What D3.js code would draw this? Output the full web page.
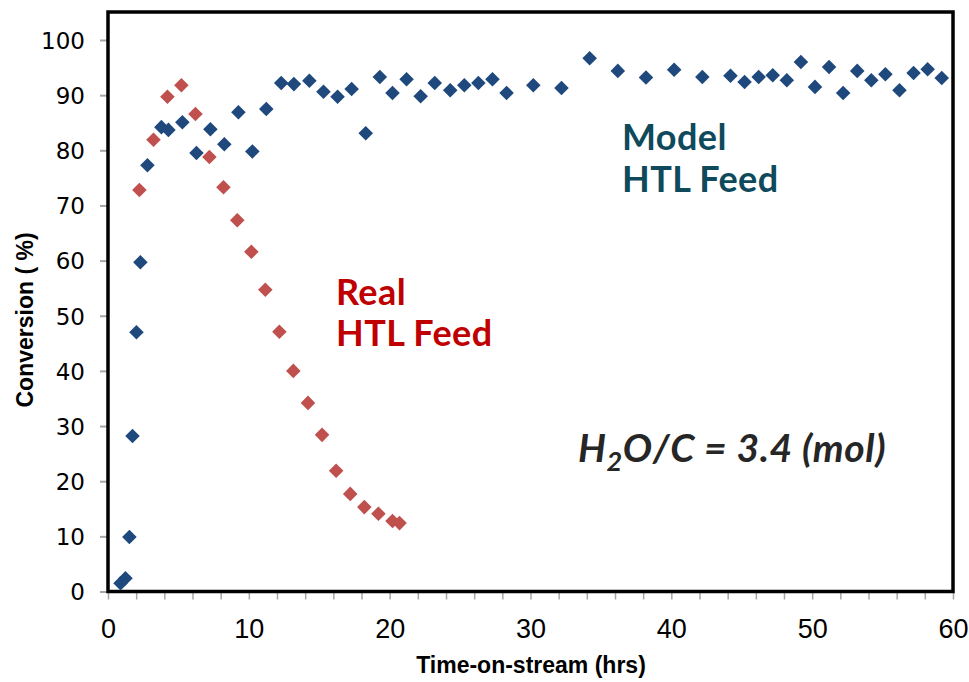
<!DOCTYPE html>
<html>
<head>
<meta charset="utf-8">
<script src="https://cdn.jsdelivr.net/npm/d3@7"></script>
<style>
  body { margin: 0; background: #fff; }
  svg { display: block; }
</style>
</head>
<body>
<svg width="969" height="682"></svg>
<script>
// Model HTL feed (blue)
const modelX = [0.89, 1.24, 1.52, 1.74, 2.02, 2.30, 2.80, 3.79, 4.29, 5.28, 6.28, 7.27, 8.26, 9.26, 10.25, 11.24,
  12.3, 13.2, 14.3, 15.3, 16.3, 17.3, 18.3, 19.3, 20.2, 21.2, 22.2, 23.2, 24.3, 25.3, 26.3, 27.3, 28.3,
  30.2, 32.2, 34.2, 36.2, 38.2, 40.2, 42.2, 44.2, 45.2, 46.2, 47.2, 48.2, 49.2, 50.2, 51.2, 52.2, 53.2,
  54.2, 55.2, 56.2, 57.2, 58.2, 59.2];
const modelY = [1.5, 2.4, 9.9, 28.2, 47.0, 59.7, 77.3, 84.2, 83.7, 85.1, 79.5, 83.8, 81.1, 86.9, 79.8, 87.5,
  92.2, 92.0, 92.6, 90.6, 89.7, 91.1, 83.1, 93.3, 90.4, 92.9, 89.8, 92.2, 90.9, 91.8, 92.2, 92.9, 90.4,
  91.8, 91.3, 96.7, 94.4, 93.2, 94.6, 93.3, 93.5, 92.4, 93.3, 93.6, 92.7, 96.0, 91.5, 95.1, 90.4, 94.4,
  92.7, 93.8, 90.9, 94.0, 94.7, 93.1];

// Real HTL feed (red)
const realX = [2.23, 3.23, 4.22, 5.21, 6.21, 7.2, 8.2, 9.18, 10.18, 11.17, 12.17, 13.16, 14.2, 15.2, 16.2,
  17.2, 18.2, 19.2, 20.2, 20.7];
const realY = [72.8, 81.9, 89.7, 91.8, 86.6, 78.8, 73.3, 67.3, 61.6, 54.7, 47.1, 40.0, 34.2, 28.4, 21.9,
  17.7, 15.3, 14.1, 12.8, 12.4];

const xTicks = [0, 10, 20, 30, 40, 50, 60];
const xMinorTicks = d3.range(0, 61, 2);
const yTicks = [0, 10, 20, 30, 40, 50, 60, 70, 80, 90, 100];

const svg = d3.select("svg");
const plotLeft = 108, plotRight = 953, plotTop = 12, plotBottom = 591.5;

const x = d3.scaleLinear().domain([0, 60]).range([plotLeft, plotRight]);
const y = d3.scaleLinear().domain([0, 100]).range([plotBottom, 40]);

// y axis
const yAxis = svg.append("g").attr("transform", "translate(" + plotLeft + ",0)")
  .call(d3.axisLeft(y).tickValues(yTicks).tickSize(8).tickPadding(15));
yAxis.select(".domain").remove();
yAxis.selectAll(".tick line").attr("stroke", "#a6a6a6").attr("stroke-width", 2);
yAxis.selectAll(".tick text").attr("font-family", "DejaVu Sans").attr("font-size", 23)
  .attr("fill", "#000").attr("dy", "0.36em");

// x axis with minor ticks every 2 hrs
const xMinor = svg.append("g").attr("transform", "translate(0," + plotBottom + ")")
  .call(d3.axisBottom(x).tickValues(xMinorTicks).tickSize(8).tickFormat(""));
xMinor.select(".domain").remove();
xMinor.selectAll(".tick line").attr("stroke", "#a6a6a6").attr("stroke-width", 1.5);

const xAxis = svg.append("g").attr("transform", "translate(0," + plotBottom + ")")
  .call(d3.axisBottom(x).tickValues(xTicks).tickSize(0).tickPadding(27));
xAxis.select(".domain").remove();
xAxis.selectAll(".tick text").attr("font-family", "Liberation Sans Narrow, Liberation Sans")
  .attr("font-size", 27).attr("fill", "#000");

// plot border
svg.append("rect").attr("x", plotLeft).attr("y", plotTop)
  .attr("width", plotRight - plotLeft).attr("height", plotBottom - plotTop)
  .attr("fill", "none").attr("stroke", "#000").attr("stroke-width", 3.5);

const diamond = d3.symbol().type(d3.symbolDiamond2).size(135);

svg.append("g").selectAll("path").data(d3.zip(realX, realY)).enter().append("path")
  .attr("d", diamond).attr("fill", "#c0504d")
  .attr("transform", d => "translate(" + x(d[0]) + "," + y(d[1]) + ")");

svg.append("g").selectAll("path").data(d3.zip(modelX, modelY)).enter().append("path")
  .attr("d", diamond).attr("fill", "#1f497d")
  .attr("transform", d => "translate(" + x(d[0]) + "," + y(d[1]) + ")");

// axis titles
svg.append("text").attr("x", 531).attr("y", 673).attr("text-anchor", "middle")
  .attr("font-family", "Liberation Sans Narrow, Liberation Sans").attr("font-weight", "bold")
  .attr("font-size", 23).text("Time-on-stream (hrs)");

svg.append("text").attr("transform", "translate(33,320) rotate(-90)").attr("text-anchor", "middle")
  .attr("font-family", "Liberation Sans Narrow, Liberation Sans").attr("font-weight", "bold")
  .attr("font-size", 23).text("Conversion ( %)");

// annotations, one text element per line
function label(lines, x0, y0, step, color) {
  lines.forEach((t, i) => {
    svg.append("text").attr("x", x0).attr("y", y0 + i * step)
      .attr("font-family", "Lato").attr("font-weight", "bold").attr("font-size", 36)
      .attr("letter-spacing", 0.4).attr("fill", color).text(t);
  });
}
label(["Real", "HTL Feed"], 336, 305, 41, "#c00000");
label(["Model", "HTL Feed"], 622, 150, 42, "#0e4a5c");

const ratio = svg.append("text").attr("x", 578).attr("y", 462).attr("font-family", "Lato")
  .attr("font-weight", "bold").attr("font-style", "italic").attr("font-size", 39)
  .attr("letter-spacing", 0.6).attr("fill", "#262626");
ratio.append("tspan").text("H");
ratio.append("tspan").attr("font-size", 27).attr("dy", 9).text("2");
ratio.append("tspan").attr("dy", -9).text("O/C = 3.4 (mol)");
</script>
</body>
</html>
